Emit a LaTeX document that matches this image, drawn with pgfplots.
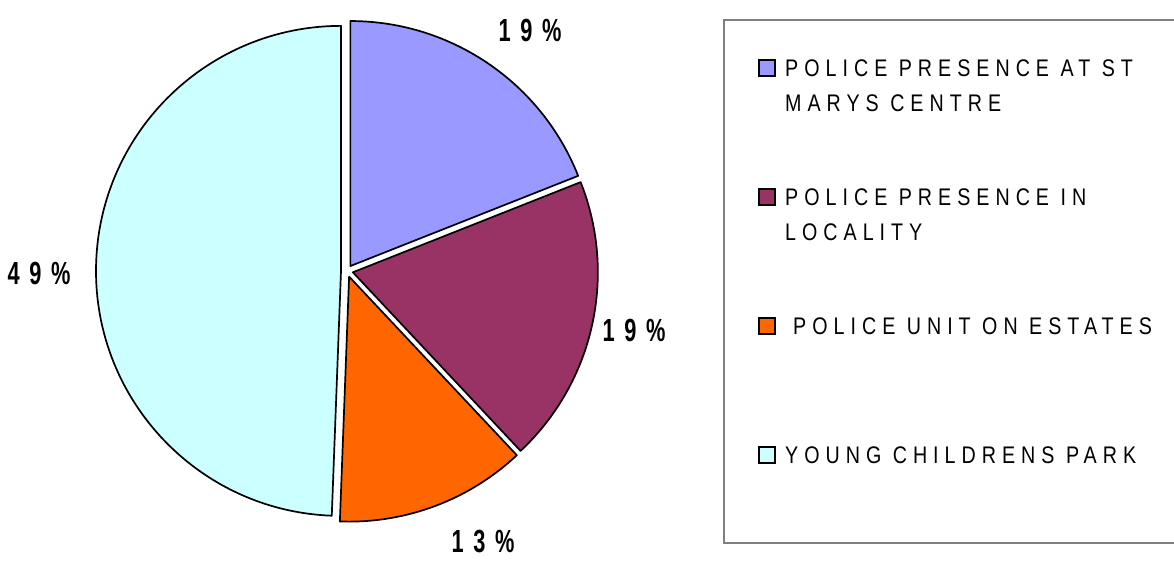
\documentclass[border=0pt]{standalone}
\usepackage{fontspec}
\setmainfont{Liberation Sans}
\newfontfamily\legfont[FakeStretch=0.82,LetterSpace=25]{Liberation Sans}
\newfontfamily\labfont[FakeStretch=0.68,LetterSpace=30]{Liberation Sans}
\usepackage{pgfplots}
\usepackage{pgfplotstable}
\pgfplotsset{compat=1.18}
\definecolor{cBlue}{HTML}{9999FF}
\definecolor{cPurple}{HTML}{993366}
\definecolor{cOrange}{HTML}{FF6600}
\definecolor{cCyan}{HTML}{CCFFFF}
\definecolor{boxgray}{HTML}{808080}

% slice values (percent), label positions (px from top-left), colour
\pgfplotstableread{
value lx ly color
19.0 530 30  cBlue
19.0 634 330 cPurple
12.6 483 542 cOrange
49.4 39  273 cCyan
}\piedata

\begin{document}
\begin{tikzpicture}
\begin{axis}[width=1174pt,height=560pt,scale only axis,
  xmin=0,xmax=1174,ymin=0,ymax=560,hide axis,clip=false]
\pgfplotsextra{
  \xdef\startang{90}
  \foreach \i in {0,...,3}{
    \pgfplotstablegetelem{\i}{value}\of\piedata \let\val\pgfplotsretval
    \pgfplotstablegetelem{\i}{color}\of\piedata \let\col\pgfplotsretval
    \pgfplotstablegetelem{\i}{lx}\of\piedata \let\lx\pgfplotsretval
    \pgfplotstablegetelem{\i}{ly}\of\piedata \let\ly\pgfplotsretval
    \pgfmathsetmacro\endang{\startang-3.6*\val}
    \pgfmathsetmacro\midang{(\startang+\endang)/2}
    \pgfmathsetmacro\cx{347+6*cos(\midang)}
    \pgfmathsetmacro\cy{289+6*sin(\midang)}
    \pgfmathsetmacro\lyy{560-\ly}
    \pgfmathtruncatemacro\pct{\val+0.5}
    \filldraw[fill=\col, draw=black, line width=1.7pt, line join=round]
      (axis cs:\cx,\cy) -- ++(\startang:245pt)
      arc[start angle=\startang, end angle=\endang, radius=245pt] -- cycle;
    \node[font=\labfont\bfseries\fontsize{32}{32}\selectfont, inner sep=0]
      at (axis cs:\lx,\lyy) {\pct\%};
    \xdef\startang{\endang}
  }
  % legend
  \draw[boxgray, line width=1.5pt] (axis cs:724,540) rectangle (axis cs:1180,17);
  \foreach \k/\c/\t in {0/cBlue/{POLICE PRESENCE AT ST\\MARYS CENTRE},
                       1/cPurple/{POLICE PRESENCE IN\\LOCALITY},
                       2/cOrange/{\hspace*{8pt}POLICE UNIT ON ESTATES},
                       3/cCyan/{YOUNG CHILDRENS PARK}}{
    \pgfmathsetmacro\ytop{560-60-129*\k}
    \pgfmathsetmacro\ybot{\ytop-16}
    \filldraw[fill=\c, draw=black, line width=1.5pt]
      (axis cs:759,\ytop) rectangle (axis cs:775,\ybot);
    \node[anchor=north west, inner sep=0, align=left,
      font=\legfont\fontsize{24}{34.5}\selectfont]
      at (axis cs:785,\ytop) {\t};
  }
}
\end{axis}
\pgfresetboundingbox
\path[use as bounding box] (0,0) rectangle (1174pt,560pt);
\end{tikzpicture}
\end{document}
